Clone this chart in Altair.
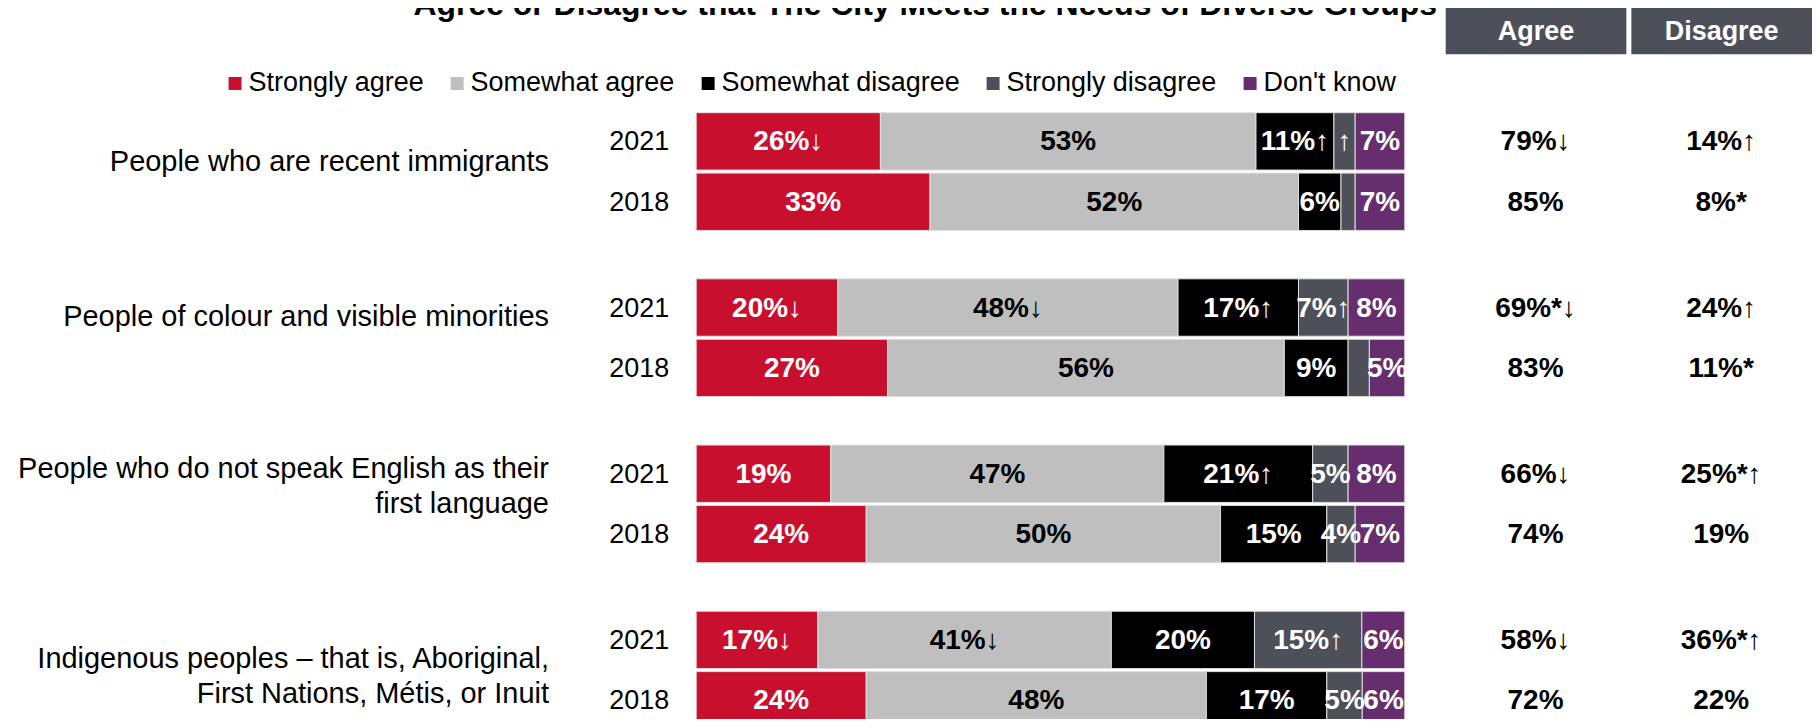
import altair as alt
import pandas as pd

FONT = "Liberation Sans"

TITLE = "Agree or Disagree that The City Meets the Needs of Diverse Groups"

groups = [
    "People who are recent immigrants",
    "People of colour and visible minorities",
    "People who do not speak English as their|first language",
    "Indigenous peoples – that is, Aboriginal,|First Nations, Métis, or Inuit",
]
years = ["2021", "2018"]
categories = ["Strongly agree", "Somewhat agree", "Somewhat disagree",
              "Strongly disagree", "Don't know"]
colors = ["#C8102E", "#BFBFBF", "#000000", "#4D5058", "#662E6E"]
measures = ["Agree", "Disagree"]

share_2021 = [[26, 53, 11, 3, 7], [20, 48, 17, 7, 8], [19, 47, 21, 5, 8], [17, 41, 20, 15, 6]]
share_2018 = [[33, 52, 6, 2, 7], [27, 56, 9, 3, 5], [24, 50, 15, 4, 7], [24, 48, 17, 5, 6]]

seg_labels_2021 = [["26%↓", "53%", "11%↑", "↑", "7%"],
                   ["20%↓", "48%↓", "17%↑", "7%↑", "8%"],
                   ["19%", "47%", "21%↑", "5%", "8%"],
                   ["17%↓", "41%↓", "20%", "15%↑", "6%"]]
seg_labels_2018 = [["33%", "52%", "6%", "", "7%"],
                   ["27%", "56%", "9%", "", "5%"],
                   ["24%", "50%", "15%", "4%", "7%"],
                   ["24%", "48%", "17%", "5%", "6%"]]

agree_2021 = ["79%↓", "69%*↓", "66%↓", "58%↓"]
agree_2018 = ["85%", "83%", "74%", "72%"]
disagree_2021 = ["14%↑", "24%↑", "25%*↑", "36%*↑"]
disagree_2018 = ["8%*", "11%*", "19%", "22%"]

rows = []
for gi, g in enumerate(groups):
    per_year = [
        ("2021", share_2021[gi], seg_labels_2021[gi], agree_2021[gi], disagree_2021[gi]),
        ("2018", share_2018[gi], seg_labels_2018[gi], agree_2018[gi], disagree_2018[gi]),
    ]
    for yr, shares, labs, ag, dis in per_year:
        for ci, cat in enumerate(categories):
            rows.append(dict(kind="seg", group=g, year=yr, category=cat, ci=ci,
                             value=shares[ci], label=labs[ci], measure=""))
        rows.append(dict(kind="net", group=g, year=yr, category="", ci=-1,
                         value=0, label=ag, measure=measures[0]))
        rows.append(dict(kind="net", group=g, year=yr, category="", ci=-1,
                         value=0, label=dis, measure=measures[1]))
df = pd.DataFrame(rows)

label_offset = {
    "condition": [
        {"test": "indexof(datum.value, 'immigrants') >= 0", "value": -10},
        {"test": "indexof(datum.value, 'colour') >= 0", "value": -21},
        {"test": "indexof(datum.value, 'English') >= 0", "value": -35},
    ],
    "value": -11,
}

y_enc = alt.Y(
    "group:N", sort=groups,
    scale=alt.Scale(paddingInner=0.2913, paddingOuter=0),
    axis=alt.Axis(title=None, domain=False, ticks=False, grid=False,
                  labelExpr="split(datum.label, '|')", labelFontSize=29,
                  labelFont=FONT, labelColor="black", labelAlign="right",
                  labelBaseline="middle", labelPadding=148, labelLimit=800,
                  labelLineHeight=35, labelOffset=label_offset),
)
yoff = alt.YOffset("year:N", sort=years,
                   scale=alt.Scale(paddingInner=0.05, paddingOuter=0))
xs = alt.Scale(domain=[0, 1], range=[0, 710], nice=False, zero=False)

seg = (
    alt.Chart(df)
    .transform_filter("datum.kind == 'seg'")
    .transform_stack(stack="value", groupby=["group", "year"], as_=["x0", "x1"],
                     offset="normalize", sort=[alt.SortField("ci", order="ascending")])
    .transform_calculate(
        xm="(datum.x0 + datum.x1) / 2",
        tc="datum.category == 'Somewhat agree' ? 'black' : 'white'",
    )
)

bars = seg.mark_bar(stroke="#E0E0E0", strokeWidth=1).encode(
    x=alt.X("x0:Q", scale=xs,
            axis=alt.Axis(orient="bottom", title=TITLE, labels=False, ticks=False,
                          domain=False, grid=False, titleX=229, titleY=-715.5,
                          titleFontSize=32, titleFontWeight="bold", titleFont=FONT,
                          titleBaseline="alphabetic", titleAlign="center",
                          titleColor="black")),
    x2="x1:Q",
    y=y_enc,
    yOffset=yoff,
    color=alt.Color("category:N", sort=categories,
                    scale=alt.Scale(domain=categories, range=colors),
                    legend=alt.Legend(orient="none", legendX=-475.5, legendY=-43,
                                      direction="horizontal", title=None,
                                      symbolType="square", symbolSize=169,
                                      symbolStrokeWidth=0, labelFontSize=27,
                                      labelFont=FONT, labelColor="black",
                                      labelOffset=0, columnPadding=19.5,
                                      labelLimit=400)),
)

seg_text = seg.mark_text(font=FONT, fontSize=28, fontWeight="bold",
                         baseline="middle", align="center", dy=1).encode(
    x=alt.X("xm:Q", scale=xs),
    y=alt.Y("group:N", sort=groups),
    yOffset=yoff,
    text="label:N",
    color=alt.Color("tc:N", scale=None),
)

year_text = seg.transform_filter("datum.ci == 0").mark_text(
    font=FONT, fontSize=27, align="right", baseline="middle", dx=-27, dy=1,
    color="black").encode(
    x=alt.X("x0:Q", scale=xs),
    y=alt.Y("group:N", sort=groups),
    yOffset=yoff,
    text="year:N",
)

bar_layer = alt.layer(bars, seg_text, year_text)

net = (
    alt.Chart(df)
    .transform_filter("datum.kind == 'net'")
    .mark_text(font=FONT, fontSize=28, fontWeight="bold", color="black",
               baseline="middle", align="center", dy=1)
    .encode(
        x=alt.X("measure:N",
                scale=alt.Scale(type="point", domain=measures, range=[841, 1027],
                                padding=0),
                axis=alt.Axis(orient="top", title=None, domain=False, grid=False,
                              ticks=True, tickSize=60, tickWidth=181,
                              tickColor="#4D5058", offset=59, labelColor="white",
                              labelFontSize=27, labelFontWeight="bold",
                              labelFont=FONT, labelPadding=-38,
                              labelBaseline="middle", labelAngle=0,
                              labelFlush=False, labelOverlap=False)),
        y=alt.Y("group:N", sort=groups),
        yOffset=yoff,
        text="label:N",
    )
)

chart = (
    alt.layer(bar_layer, net)
    .resolve_scale(x="independent")
    .properties(width=1118, height=617.5,
                padding={"left": 8.5, "top": -105.8, "right": 0, "bottom": -11.5})
    .configure(font=FONT)
    .configure_view(stroke=None)
)

chart.save("out.html", embed_options={"renderer": "svg", "actions": False})
